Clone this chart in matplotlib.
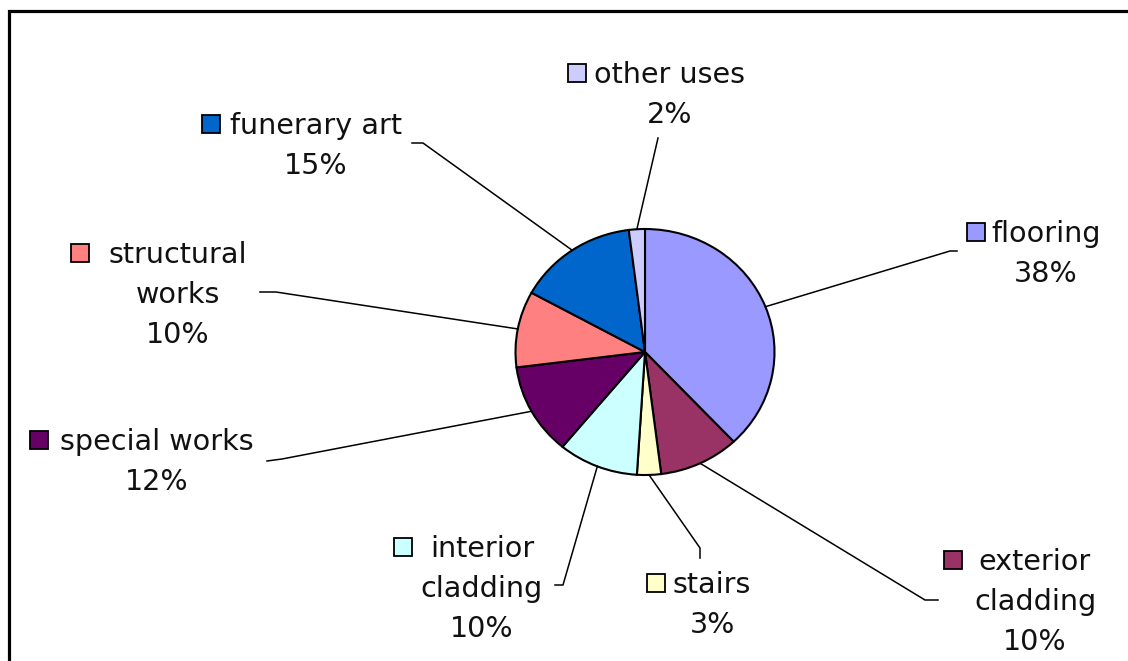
import matplotlib
matplotlib.use("Agg")
import matplotlib.pyplot as plt
from matplotlib.patches import Rectangle
from matplotlib.lines import Line2D
import numpy as np

# ---- data -------------------------------------------------------------
categories = ["flooring", "exterior cladding", "stairs", "interior cladding",
              "special works", "structural works", "funerary art", "other uses"]
shares = [38, 10, 3, 10, 12, 10, 15, 2]
colors = ["#9999FF", "#993366", "#FFFFCC", "#CCFFFF",
          "#660066", "#FF8080", "#0066CC", "#CCCCFF"]
# how each category name is broken over lines in its label
label_lines = [["flooring"], ["exterior", "cladding"], ["stairs"],
               ["interior", "cladding"], ["special works"],
               ["structural", "works"], ["funerary art"], ["other uses"]]

# ---- layout (pixel space, y downwards) --------------------------------
W, H = 1128, 661
pie_cx, pie_cy, pie_rx, pie_ry = 645, 352, 129.5, 123
# label centre x, first baseline y, gap between colour key and text
label_cx = [1046, 1035, 712, 482, 157, 178, 316, 670]
label_base = [242, 570, 593, 557, 450, 263, 134, 83]
key_gap = [6, 17, 8, 18, 12, 20, 10, 9]
# leader line: knee point, end point next to the label
leader_knee = [(950, 251), (925, 600), (700, 548), (563, 585),
               (282, 459), (276, 292), (423, 143), (658, 138)]
leader_end = [(957, 251), (938, 600), (700, 558), (555, 585),
              (267, 461), (260, 292), (412, 143), (658, 138)]
line_step = 40
key_size = 18
font = dict(family=["DejaVu Sans"], size=20.6, color="#111111")

fig = plt.figure(figsize=(W / 100, H / 100), dpi=100)
fig.patch.set_facecolor("white")

# pie axes: slightly wider than tall, as in the original sheet
ax = fig.add_axes([(pie_cx - pie_rx) / W, 1 - (pie_cy + pie_ry) / H,
                   2 * pie_rx / W, 2 * pie_ry / H])
wedges, _ = ax.pie(shares, colors=colors, startangle=90, counterclock=False,
                   radius=1, wedgeprops=dict(edgecolor="black", linewidth=1.5))
ax.set_aspect("auto")
ax.set_xlim(-1, 1)
ax.set_ylim(-1, 1)
ax.axis("off")

# overlay axes in pixel units for labels, leaders and the frame
ov = fig.add_axes([0, 0, 1, 1], zorder=3)
ov.set_xlim(0, W)
ov.set_ylim(H, 0)
ov.axis("off")
ov.patch.set_alpha(0)

# frame around the chart area (open at right and bottom edges)
ov.add_line(Line2D([9, 9, W], [H, 11, 11], color="black", linewidth=2.3,
                   solid_joinstyle="miter"))

to_ov = ov.transData.inverted()
renderer = fig.canvas.get_renderer()

for i, w in enumerate(wedges):
    # leader line from the wedge's mid-angle on the rim
    mid = np.deg2rad((w.theta1 + w.theta2) / 2)
    px, py = to_ov.transform(ax.transData.transform((np.cos(mid), np.sin(mid))))
    kx, ky = leader_knee[i]
    ex, ey = leader_end[i]
    ov.add_line(Line2D([px, kx, ex], [py, ky, ey], color="black", linewidth=1.1))

    # label text, one line at a time, centred
    texts = label_lines[i][1:] + [f"{shares[i]}%"]
    first = ov.text(label_cx[i], label_base[i], label_lines[i][0],
                    ha="center", va="baseline", **font)
    for k, t in enumerate(texts, start=1):
        ov.text(label_cx[i], label_base[i] + k * line_step, t,
                ha="center", va="baseline", **font)

    # colour key to the left of the first line
    bb = first.get_window_extent(renderer)
    left = to_ov.transform((bb.x0, bb.y0))[0]
    sq_right = left - key_gap[i]
    ov.add_patch(Rectangle((sq_right - key_size, label_base[i] - 10 - key_size / 2),
                           key_size, key_size, facecolor=colors[i],
                           edgecolor="black", linewidth=1.3))

fig.savefig("out.png", dpi=100, facecolor="white")
